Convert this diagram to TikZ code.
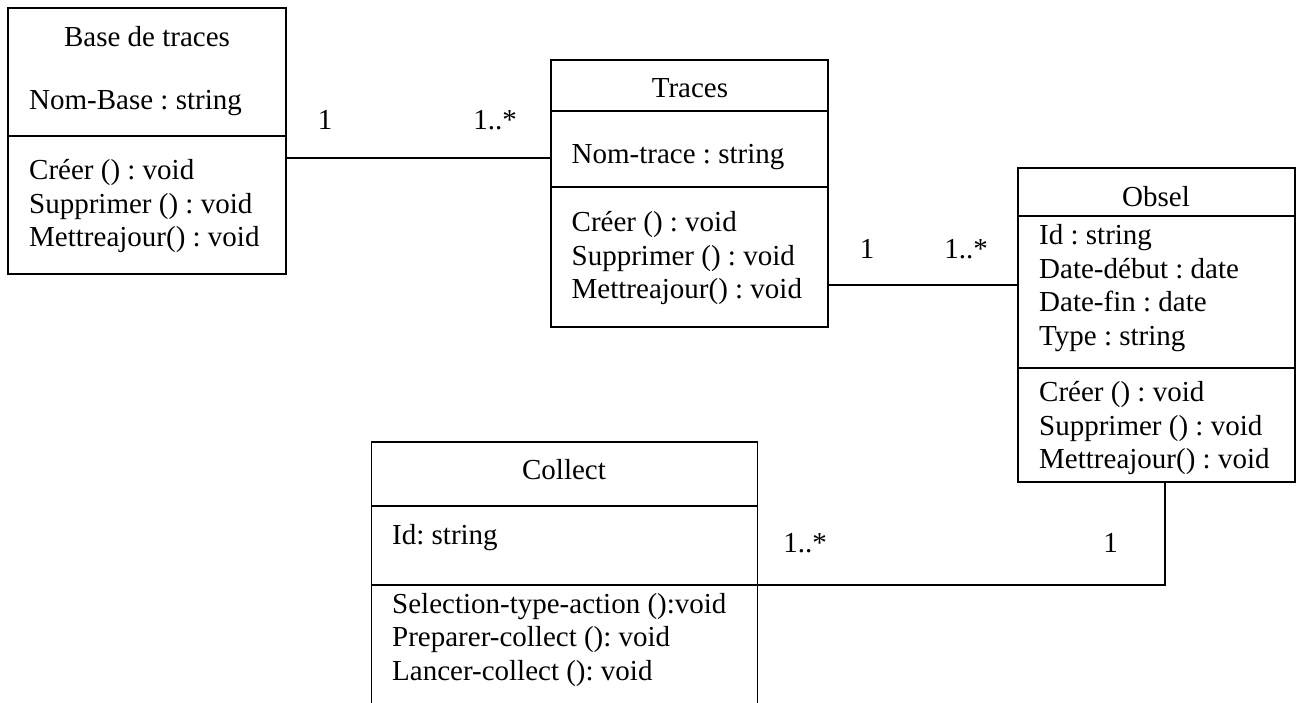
\documentclass[tikz,border=0pt]{standalone}
\usepackage{fontspec}
\setmainfont{Liberation Serif}
\frenchspacing
\begin{document}
\begin{tikzpicture}[x=1pt,y=-1pt,
  umlbox/.style={draw,line width=1.6pt,rectangle,inner sep=0pt,outer sep=0pt,anchor=north west},
  hollow/.style={rectangle,inner sep=0pt,outer sep=0pt,anchor=north west},
  rule/.style={line width=1.6pt},
  txt/.style={inner sep=0pt,anchor=west,align=left,font={\fontsize{29}{33.7}\selectfont}},
  ttl/.style={inner sep=0pt,font={\fontsize{29}{33.7}\selectfont}},
  mult/.style={inner sep=0pt,font={\fontsize{29}{33.7}\selectfont}}]
\useasboundingbox (0,0) rectangle (1300,702);

% Class boxes
\node[umlbox,minimum width=278pt,minimum height=266pt] (base) at (8,8) {};
\node[umlbox,minimum width=277pt,minimum height=267pt] (traces) at (551,60) {};
\node[umlbox,minimum width=277pt,minimum height=314pt] (obsel) at (1018,168) {};
\node[hollow,minimum width=386pt,minimum height=262pt] (collect) at (371.5,442) {};
\draw[rule] (collect.south west) -- (collect.north west) -- (collect.north east) -- (collect.south east);

% Compartment dividers
\draw[rule] ([yshift=-128pt]base.north west) -- ([yshift=-128pt]base.north east);
\draw[rule] ([yshift=-51pt]traces.north west) -- ([yshift=-51pt]traces.north east);
\draw[rule] ([yshift=-127pt]traces.north west) -- ([yshift=-127pt]traces.north east);
\draw[rule] ([yshift=-48pt]obsel.north west) -- ([yshift=-48pt]obsel.north east);
\draw[rule] ([yshift=-200pt]obsel.north west) -- ([yshift=-200pt]obsel.north east);
\draw[rule] ([yshift=-64pt]collect.north west) -- ([yshift=-64pt]collect.north east);
\draw[rule] ([yshift=-143pt]collect.north west) -- ([yshift=-143pt]collect.north east);

% Base de traces
\node[ttl] (baseT) at (147,37) {Base de traces};
\node[txt] (baseA) at (29,103) {Nom-Base : string};
\node[txt] (baseM) at (29,206) {Créer () : void\\Supprimer () : void\\Mettreajour() : void};

% Traces
\node[ttl] (tracesT) at (690,88) {Traces};
\node[txt] (tracesA) at (571.5,157) {Nom-trace : string};
\node[txt] (tracesM) at (571.5,258) {Créer () : void\\Supprimer () : void\\Mettreajour() : void};

% Obsel
\node[ttl] (obselT) at (1156,197) {Obsel};
\node[txt] (obselA) at (1039,288) {Id : string\\Date-début : date\\Date-fin : date\\Type : string};
\node[txt] (obselM) at (1039,428) {Créer () : void\\Supprimer () : void\\Mettreajour() : void};

% Collect
\node[ttl] (collectT) at (564,470) {Collect};
\node[txt] (collectA) at (392,538) {Id: string};
\node[txt] (collectM) at (392,640) {Selection-type-action ():void\\Preparer-collect (): void\\Lancer-collect (): void};

% Associations
\coordinate (b1) at ([yshift=-150pt]base.north east);
\draw[rule] (b1) -- (b1 -| traces.west);
\coordinate (t1) at ([yshift=-225pt]traces.north east);
\draw[rule] (t1) -- (t1 -| obsel.west);
\coordinate (c1) at ([yshift=-143pt]collect.north east);
\coordinate (o1) at ([xshift=-130pt]obsel.south east);
\draw[rule] (c1) -- (c1 -| o1) -- (o1);

% Multiplicities
\node[mult] (m1) at (325,120) {1};
\node[mult] (m2) at (495,120) {1..*};
\node[mult] (m3) at (867,249) {1};
\node[mult] (m4) at (966,249) {1..*};
\node[mult] (m5) at (805,543) {1..*};
\node[mult] (m6) at (1110.5,543) {1};
\end{tikzpicture}
\end{document}
